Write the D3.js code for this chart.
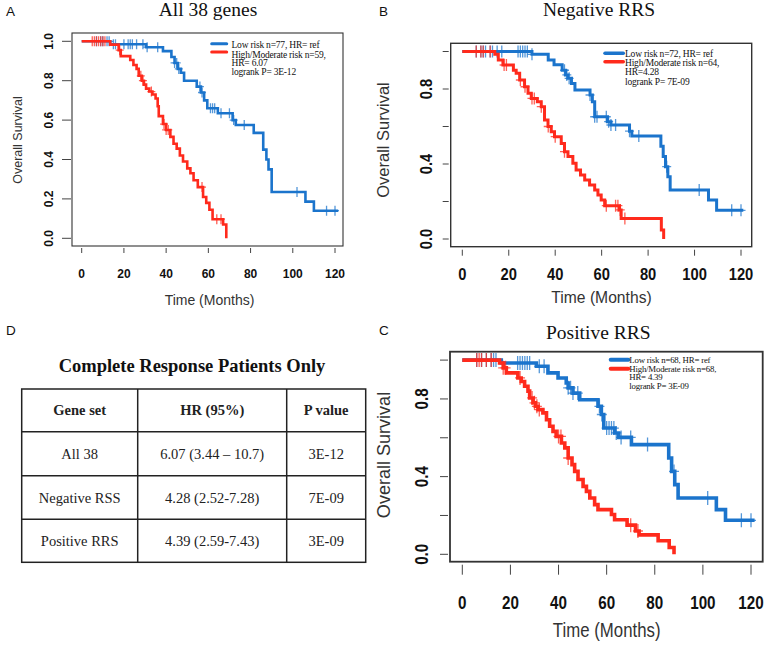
<!DOCTYPE html>
<html><head><meta charset="utf-8">
<script src="https://cdn.jsdelivr.net/npm/d3@7"></script>
<style>body{margin:0;background:#fff}svg{display:block}</style>
</head><body><svg id="c" width="770" height="647"></svg>
<script>
// ---------------- DATA ----------------
const xTicks = [0, 20, 40, 60, 80, 100, 120];
const yTicks = [0, 0.2, 0.4, 0.6, 0.8, 1.0];
const yTickLabelsA = [0, 0.2, 0.4, 0.6, 0.8, 1.0];
const yTickLabelsBC = [0, 0.4, 0.8];

// Panel A: All 38 genes
const aLowTimes = [13.5, 30.5, 38.5, 42.5, 44, 45.5, 47, 48.5, 54.5, 56.5, 58, 59.5, 64.5, 71.5, 73, 81.5, 86, 87.5, 88.5, 90, 106, 110];
const aLowSurv  = [0.985, 0.97, 0.95, 0.92, 0.89, 0.86, 0.84, 0.80, 0.77, 0.74, 0.70, 0.66, 0.635, 0.60, 0.575, 0.535, 0.45, 0.40, 0.35, 0.235, 0.186, 0.14];
const aLowEnd = 121.5;
const aLowCens = [7, 9, 10, 12, 13, 15, 16, 20, 22, 23, 24, 26, 29, 31, 36, 44, 45, 46, 56, 57, 61, 62, 63, 66, 70, 72, 77, 102, 116, 120];
const aHighTimes = [13.5, 17.5, 18.5, 23, 24.5, 26, 27, 28.5, 29.5, 30.5, 32, 33.5, 35, 36, 36.5, 38.5, 40, 42, 43.5, 45, 46.5, 48, 50, 51.5, 53, 55, 57.5, 59, 60.5, 62, 67, 68.5];
const aHighSurv  = [0.983, 0.955, 0.925, 0.905, 0.88, 0.86, 0.825, 0.80, 0.78, 0.76, 0.745, 0.73, 0.71, 0.67, 0.62, 0.58, 0.55, 0.515, 0.48, 0.455, 0.42, 0.39, 0.355, 0.33, 0.295, 0.26, 0.21, 0.18, 0.145, 0.097, 0.07, 0.0];
const aHighEnd = 68.5;
const aHighCens = [5, 6, 7, 8, 9, 10, 11, 18, 28, 29, 33, 39, 40, 41, 57, 64, 66];
const aLegend = ["Low risk n=77, HR= ref", "High/Moderate risk n=59,", "HR= 6.07", "logrank P= 3E-12"];

// Panel B: Negative RRS
const bLowTimes = [30, 37, 39.5, 43, 44.5, 45.5, 47, 48.5, 55, 56, 57, 62.5, 64, 72, 73, 85.5, 86.5, 87.5, 88.5, 89.5, 106, 109.5];
const bLowSurv  = [0.985, 0.955, 0.93, 0.90, 0.875, 0.857, 0.83, 0.795, 0.768, 0.732, 0.652, 0.626, 0.608, 0.575, 0.55, 0.495, 0.44, 0.386, 0.332, 0.262, 0.208, 0.153];
const bLowEnd = 121;
const bLowCens = [6, 8, 9, 10, 12, 13, 15, 17, 24, 25, 26, 27, 28, 30, 44, 45, 46, 55, 57, 58, 62, 63, 64, 66, 72, 76, 88, 102, 116, 120];
const bHighTimes = [14, 15.5, 17.5, 22, 23.2, 24.7, 26.8, 28.3, 29.7, 32.3, 34, 35.4, 36.9, 38.3, 39.7, 42.6, 44, 45.5, 47.6, 49, 50.9, 52.7, 54.8, 57, 58.4, 59.8, 61.3, 67.7, 68.4, 85.7, 86.7];
const bHighSurv  = [0.985, 0.955, 0.928, 0.90, 0.884, 0.848, 0.812, 0.777, 0.75, 0.732, 0.706, 0.635, 0.60, 0.572, 0.546, 0.51, 0.466, 0.44, 0.404, 0.368, 0.341, 0.315, 0.288, 0.262, 0.235, 0.208, 0.178, 0.155, 0.11, 0.048, 0];
const bHighEnd = 86.7;
const bHighCens = [6, 8, 9, 12, 18, 19, 25, 27, 30, 31, 34, 37, 40, 44, 62, 66, 67, 68, 70];
const bLegend = ["Low risk n=72, HR= ref", "High/Moderate risk n=64,", "HR=4.28", "logrank P= 7E-09"];

// Panel C: Positive RRS
const cLowTimes = [16.2, 30.8, 35.6, 39.8, 43.2, 44, 46, 48.8, 56.4, 57.8, 58.8, 63.3, 65, 70.3, 85.8, 87, 88.3, 89.7, 105.6, 109.4];
const cLowSurv  = [0.985, 0.968, 0.934, 0.908, 0.882, 0.857, 0.83, 0.796, 0.762, 0.72, 0.65, 0.625, 0.602, 0.565, 0.496, 0.427, 0.359, 0.29, 0.23, 0.175];
const cLowEnd = 121.5;
const cLowCens = [6, 8, 10, 12, 13, 14, 23, 24, 25, 26, 27, 28, 32, 34, 44, 45, 46, 48, 57, 58, 60, 61, 62, 63, 64, 66, 70, 77, 88, 102, 116, 120];
const cHighTimes = [15.5, 17, 18.3, 23.1, 24.5, 25.9, 27.3, 28, 29.4, 30.4, 31.5, 33.5, 35, 36.3, 37.7, 39, 41.2, 42.6, 44, 45.6, 46.7, 48.1, 50.2, 51.6, 53, 55, 56.4, 62, 63.3, 68.5, 72, 73.5, 81.4, 86, 88];
const cHighSurv  = [0.985, 0.96, 0.934, 0.908, 0.89, 0.865, 0.84, 0.805, 0.78, 0.762, 0.745, 0.728, 0.693, 0.659, 0.633, 0.607, 0.573, 0.548, 0.496, 0.462, 0.427, 0.385, 0.35, 0.324, 0.29, 0.256, 0.23, 0.205, 0.178, 0.15, 0.12, 0.10, 0.07, 0.035, 0];
const cHighEnd = 88;
const cHighCens = [6, 7, 8, 10, 12, 17, 18, 24, 29, 30, 31, 32, 40, 41, 44, 70, 73];
const cLegend = ["Low risk n=68, HR= ref", "High/Moderate risk n=68,", "HR= 4.39", "logrank P= 3E-09"];

// Panel D table
const tableTitle = "Complete Response Patients Only";
const tableColumns = ["Gene set", "HR (95%)", "P value"];
const geneSets = ["All 38", "Negative RSS", "Positive RRS"];
const hrValues = ["6.07 (3.44 \u2013 10.7)", "4.28 (2.52-7.28)", "4.39 (2.59-7.43)"];
const pValues = ["3E-12", "7E-09", "3E-09"];

const xLabel = "Time (Months)";
const yLabel = "Overall Survival";

// ---------------- LAYOUT / STYLE ----------------
const BLUE = "#1b74cc", RED = "#ff2a1c";
const SERIF = "'Liberation Serif','Times New Roman',serif";
const SANS = "'Liberation Sans',Arial,Helvetica,sans-serif";

const panels = [
  { letter: "A", letterPos: [6, 16], title: "All 38 genes", titlePos: [208, 16],
    box: {x0: 72, x1: 343, y0: 33, y1: 246}, xr: [81.7, 335], yr: [238.3, 41.3],
    low: {t: aLowTimes, s: aLowSurv, end: aLowEnd, c: aLowCens},
    high: {t: aHighTimes, s: aHighSurv, end: aHighEnd, c: aHighCens},
    legend: aLegend, yLabels: yTickLabelsA,
    lw: 2.6, box_w: 1.1, crossH: 4, crossV: 5,
    xt: [2, 7], xtLabY: 277.5, tickFs: 12, tickSX: 1, yt: [10, 1], ytLabX: 53,
    xlab: [209.5, 305, 14, 1], ylab: [21.5, 140, 12.5, 1],
    leg: {lx: [211.7, 226.7], ly: [43.8, 52], lw: 3, tx: 231.5, ty: [48, 57.5, 66.3, 75], fs: 9.5} },
  { letter: "B", letterPos: [379, 16], title: "Negative RRS", titlePos: [599, 16],
    box: {x0: 450.7, x1: 751.7, y0: 43.3, y1: 246.7}, xr: [462.3, 741], yr: [239, 51.5],
    low: {t: bLowTimes, s: bLowSurv, end: bLowEnd, c: bLowCens},
    high: {t: bHighTimes, s: bHighSurv, end: bHighEnd, c: bHighCens},
    legend: bLegend, yLabels: yTickLabelsBC,
    lw: 3, box_w: 1.4, crossH: 4.5, crossV: 6,
    xt: [3, 9], xtLabY: 279.5, tickFs: 16, tickSX: 0.92, yt: [8, 2], ytLabX: 432,
    xlab: [601.5, 303, 16.5, 0.95], ylab: [389, 140, 16.5, 1],
    leg: {lx: [605, 623.3], ly: [53.3, 61.7], lw: 3.5, tx: 625, ty: [56.5, 66, 75, 84.8], fs: 9.5} },
  { letter: "C", letterPos: [379, 335], title: "Positive RRS", titlePos: [598.3, 339],
    box: {x0: 450, x1: 762.7, y0: 351.7, y1: 561.7}, xr: [462.3, 751], yr: [554.3, 360.1],
    low: {t: cLowTimes, s: cLowSurv, end: cLowEnd, c: cLowCens},
    high: {t: cHighTimes, s: cHighSurv, end: cHighEnd, c: cHighCens},
    legend: cLegend, yLabels: yTickLabelsBC,
    lw: 3.6, box_w: 1.8, crossH: 5, crossV: 7,
    xt: [3, 13], xtLabY: 608.5, tickFs: 19, tickSX: 0.8, yt: [10, 2], ytLabX: 428,
    xlab: [606.7, 637, 20.5, 0.82], ylab: [390, 455, 19, 0.95],
    leg: {lx: [610.7, 628.3], ly: [359.7, 368.8], lw: 4, tx: 629.3, ty: [363, 371.8, 380.3, 389.3], fs: 8.8} }
];

const svg = d3.select("#c");
svg.append("rect").attr("width", 770).attr("height", 647).attr("fill", "#fff");

function survAt(curve, t) {
  const i = d3.bisectRight(curve.t, t) - 1;
  return i < 0 ? 1 : curve.s[i];
}

panels.forEach(p => {
  const g = svg.append("g");
  const x = d3.scaleLinear().domain([0, 120]).range(p.xr);
  const y = d3.scaleLinear().domain([0, 1]).range(p.yr);

  // panel letter & title
  g.append("text").attr("x", p.letterPos[0]).attr("y", p.letterPos[1]).text(p.letter)
    .attr("font-family", SANS).attr("font-size", 13.5).attr("fill", "#111");
  g.append("text").attr("x", p.titlePos[0]).attr("y", p.titlePos[1]).text(p.title)
    .attr("text-anchor", "middle").attr("font-family", SERIF).attr("font-size", 19.5).attr("fill", "#111");

  // box
  g.append("rect").attr("x", p.box.x0).attr("y", p.box.y0)
    .attr("width", p.box.x1 - p.box.x0).attr("height", p.box.y1 - p.box.y0)
    .attr("fill", "none").attr("stroke", "#333").attr("stroke-width", p.box_w);

  // x axis ticks
  const xa = g.append("g");
  xTicks.forEach(v => {
    xa.append("line").attr("x1", x(v)).attr("x2", x(v))
      .attr("y1", p.box.y1 + p.xt[0]).attr("y2", p.box.y1 + p.xt[1])
      .attr("stroke", "#444").attr("stroke-width", 1);
    xa.append("text").attr("transform", `translate(${x(v)},${p.xtLabY}) scale(${p.tickSX},1)`)
      .attr("text-anchor", "middle").attr("font-family", SANS).attr("font-weight", "bold")
      .attr("font-size", p.tickFs).attr("fill", "#111").text(v);
  });
  // y axis ticks
  yTicks.forEach(v => {
    g.append("line").attr("x1", p.box.x0 - p.yt[0]).attr("x2", p.box.x0 - p.yt[1])
      .attr("y1", y(v)).attr("y2", y(v)).attr("stroke", "#444").attr("stroke-width", 1);
  });
  p.yLabels.forEach(v => {
    g.append("text").attr("transform", `translate(${p.ytLabX},${y(v)}) rotate(-90) scale(${p.tickSX},1)`)
      .attr("text-anchor", "middle").attr("font-family", SANS).attr("font-weight", "bold")
      .attr("font-size", p.tickFs).attr("fill", "#111").text(d3.format(".1f")(v));
  });

  // axis labels
  g.append("text").attr("transform", `translate(${p.xlab[0]},${p.xlab[1]}) scale(${p.xlab[3]},1)`)
    .attr("text-anchor", "middle").attr("font-family", SANS).attr("font-size", p.xlab[2])
    .attr("fill", "#333").text(xLabel);
  g.append("text").attr("transform", `translate(${p.ylab[0]},${p.ylab[1]}) rotate(-90) scale(${p.ylab[3]},1)`)
    .attr("text-anchor", "middle").attr("font-family", SANS).attr("font-size", p.ylab[2])
    .attr("fill", "#333").text(yLabel);

  // curves
  const line = d3.line().x(d => x(d[0])).y(d => y(d[1])).curve(d3.curveStepAfter);
  [[p.low, BLUE], [p.high, RED]].forEach(([cv, col]) => {
    const pts = [[0, 1]].concat(cv.t.map((t, i) => [t, cv.s[i]]));
    pts.push([cv.end, cv.s[cv.s.length - 1]]);
    g.append("path").attr("d", line(pts)).attr("fill", "none").attr("stroke", col)
      .attr("stroke-width", p.lw).attr("stroke-linejoin", "miter").attr("stroke-linecap", "butt");
    const cg = g.append("g");
    cv.c.forEach(t => {
      const cx = x(t), cy = y(survAt(cv, t));
      cg.append("path")
        .attr("d", `M${cx - p.crossH},${cy}H${cx + p.crossH}M${cx},${cy - p.crossV}V${cy + p.crossV}`)
        .attr("stroke", col).attr("stroke-width", 1.3).attr("opacity", 0.75).attr("fill", "none");
    });
  });

  // legend
  const L = p.leg;
  [BLUE, RED].forEach((col, i) => {
    g.append("line").attr("x1", L.lx[0]).attr("x2", L.lx[1]).attr("y1", L.ly[i]).attr("y2", L.ly[i])
      .attr("stroke", col).attr("stroke-width", L.lw).attr("stroke-linecap", "round");
  });
  p.legend.forEach((s, i) => {
    g.append("text").attr("x", L.tx).attr("y", L.ty[i]).text(s)
      .attr("font-family", SERIF).attr("font-size", L.fs).attr("fill", "#111")
      .attr("letter-spacing", -0.2);
  });
});

// ---------------- PANEL D: table ----------------
const gd = svg.append("g");
gd.append("text").attr("x", 6).attr("y", 335).text("D")
  .attr("font-family", SANS).attr("font-size", 13.5).attr("fill", "#111");
gd.append("text").attr("x", 192).attr("y", 371.5).attr("text-anchor", "middle")
  .attr("font-family", SERIF).attr("font-weight", "bold").attr("font-size", 18.5)
  .attr("fill", "#111").text(tableTitle);

const colEdges = [21.7, 137.7, 286.7, 365.7];
const rowEdges = [389, 431.7, 475.7, 519.3, 562.3];
const xc = d3.scaleOrdinal().domain(tableColumns).range(colEdges.slice(0, 3).map((e, i) => (e + colEdges[i + 1]) / 2));

gd.append("rect").attr("x", colEdges[0]).attr("y", rowEdges[0])
  .attr("width", colEdges[3] - colEdges[0]).attr("height", rowEdges[4] - rowEdges[0])
  .attr("fill", "none").attr("stroke", "#222").attr("stroke-width", 1.5);
colEdges.slice(1, 3).forEach(e => gd.append("line").attr("x1", e).attr("x2", e)
  .attr("y1", rowEdges[0]).attr("y2", rowEdges[4]).attr("stroke", "#222").attr("stroke-width", 1.5));
rowEdges.slice(1, 4).forEach(e => gd.append("line").attr("y1", e).attr("y2", e)
  .attr("x1", colEdges[0]).attr("x2", colEdges[3]).attr("stroke", "#222").attr("stroke-width", 1.5));

const rowsData = [tableColumns].concat(geneSets.map((gs, i) => [gs, hrValues[i], pValues[i]]));
rowsData.forEach((row, r) => {
  const cy = (rowEdges[r] + rowEdges[r + 1]) / 2 + 5;
  row.forEach((cell, c) => {
    gd.append("text").attr("x", xc(tableColumns[c])).attr("y", cy).attr("text-anchor", "middle")
      .attr("font-family", SERIF).attr("font-size", 14.5)
      .attr("font-weight", r === 0 ? "bold" : "normal").attr("fill", "#222").text(cell);
  });
});
</script>
</body></html>
